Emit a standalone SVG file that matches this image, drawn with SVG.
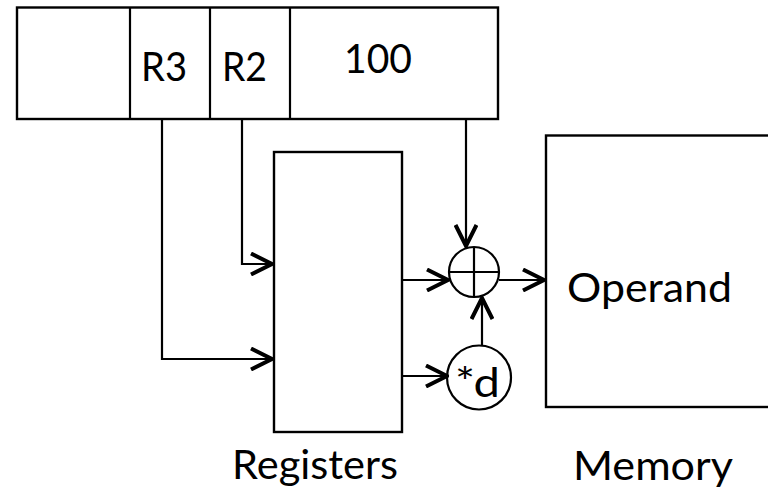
<svg xmlns="http://www.w3.org/2000/svg" width="768" height="489" viewBox="0 0 768 489">
  <style>
    .box { fill: #ffffff; stroke: #000000; stroke-width: 2.4; }
    .ln { fill: none; stroke: #000000; stroke-width: 2.2; }
    .lbl { font-family: Lato, "Open Sans", "Liberation Sans", sans-serif; font-size: 40px; fill: #000000; }
  </style>
  <defs>
    <marker id="chev" viewBox="0 0 24 24" refX="22" refY="12" markerWidth="24" markerHeight="24" markerUnits="userSpaceOnUse" orient="auto">
      <path d="M1,1.5 L22,12 L1,22.5" fill="none" stroke="#000000" stroke-width="4" stroke-linejoin="miter"/>
    </marker>
  </defs>
  <rect width="768" height="489" fill="#ffffff"/>

  <g id="instruction">
    <rect class="box" x="17" y="7.5" width="481" height="111.5"/>
    <line class="ln" x1="130" y1="7.5" x2="130" y2="119"/>
    <line class="ln" x1="210" y1="7.5" x2="210" y2="119"/>
    <line class="ln" x1="290" y1="7.5" x2="290" y2="119"/>
    <text class="lbl" x="141" y="81" textLength="46" lengthAdjust="spacingAndGlyphs">R3</text>
    <text class="lbl" x="222" y="81" textLength="45" lengthAdjust="spacingAndGlyphs">R2</text>
    <text class="lbl" x="344" y="73" font-size="41" textLength="68" lengthAdjust="spacingAndGlyphs">100</text>
  </g>

  <g id="registers">
    <rect class="box" x="274" y="152" width="128" height="280"/>
    <text class="lbl" x="232" y="479" textLength="166" lengthAdjust="spacingAndGlyphs">Registers</text>
  </g>

  <g id="memory">
    <rect class="box" x="546" y="135.5" width="230" height="271.5"/>
    <text class="lbl" x="567" y="302" textLength="165" lengthAdjust="spacingAndGlyphs">Operand</text>
    <text class="lbl" x="573" y="480" textLength="160" lengthAdjust="spacingAndGlyphs">Memory</text>
  </g>

  <g id="adder">
    <circle class="ln" cx="474" cy="272" r="25"/>
    <line class="ln" x1="449" y1="272" x2="499" y2="272"/>
    <line class="ln" x1="474" y1="247" x2="474" y2="297"/>
  </g>

  <g id="scale">
    <circle class="ln" cx="479" cy="377.5" r="32"/>
    <text class="lbl" x="455" y="397" textLength="45" lengthAdjust="spacingAndGlyphs">*d</text>
  </g>

  <g id="connectors">
    <path class="ln" d="M162,119 V359 H272" marker-end="url(#chev)"/>
    <path class="ln" d="M242,119 V264 H272" marker-end="url(#chev)"/>
    <path class="ln" d="M466,119 V246" marker-end="url(#chev)"/>
    <path class="ln" d="M402,280 H448" marker-end="url(#chev)"/>
    <path class="ln" d="M402,376 H447" marker-end="url(#chev)"/>
    <path class="ln" d="M482,345 V298" marker-end="url(#chev)"/>
    <path class="ln" d="M499,280 H544" marker-end="url(#chev)"/>
  </g>
</svg>
